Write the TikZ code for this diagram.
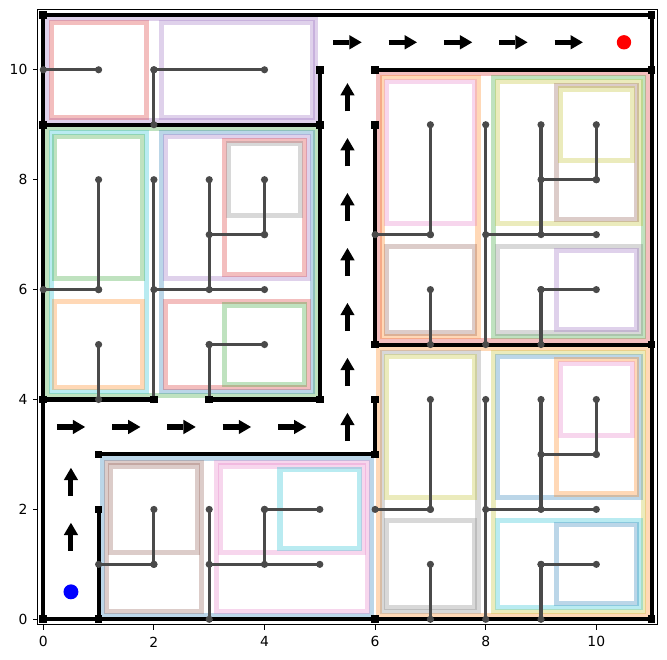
\documentclass[tikz,border=0pt]{standalone}
\usepackage{fontspec}
\setmainfont{DejaVu Sans}
\usetikzlibrary{arrows.meta}

\definecolor{tabblue}{HTML}{1F77B4}
\definecolor{taborange}{HTML}{FF7F0E}
\definecolor{tabgreen}{HTML}{2CA02C}
\definecolor{tabred}{HTML}{D62728}
\definecolor{tabpurple}{HTML}{9467BD}
\definecolor{tabbrown}{HTML}{8C564B}
\definecolor{tabpink}{HTML}{E377C2}
\definecolor{tabgray}{HTML}{7F7F7F}
\definecolor{tabolive}{HTML}{BCBD22}
\definecolor{tabcyan}{HTML}{17BECF}
\definecolor{branchgray}{HTML}{4A4A4A}

\tikzset{
    wall/.style={line width=2.1pt, draw=black},
    branch/.style={line width=1.6pt, draw=branchgray},
    zone/.style={line width=2.6pt, draw opacity=0.3},
    move/.style={line width=2.6pt, -{Triangle[length=6.3pt, width=7.4pt, line width=0pt]}},
    start/.style={circle, fill=blue, inner sep=0pt, minimum size=0.27cm},
    goal/.style={circle, fill=red, inner sep=0pt, minimum size=0.26cm},
    tick/.style={inner sep=0pt, font=\fontsize{7.15}{8}\selectfont}
}

\begin{document}
\begin{tikzpicture}[x=1cm, y=0.9937cm]
  \useasboundingbox (-0.783,-0.7225) rectangle (11.278,11.27);

  % grid points
  \foreach \i in {0,...,11}
    \foreach \j in {0,...,11}
      \coordinate (g\i-\j) at (\i,\j);

  % partition rectangles: colour/depth/x1/y1/x2/y2
  \foreach \c/\d/\xa/\ya/\xb/\yb in {
      tabpurple/0/0/9/5/11, tabred/1/0/9/2/11, tabpurple/1/2/9/5/11,
      tabgreen/0/0/4/5/9, tabcyan/1/0/4/2/9, tabgreen/2/0/6/2/9, taborange/2/0/4/2/6,
      tabblue/1/2/4/5/9, tabpurple/2/2/6/5/9, tabred/3/3/6/5/9, tabgray/4/3/7/5/9,
      tabred/2/2/4/5/6, tabgreen/3/3/4/5/6,
      tabblue/0/1/0/6/3, tabbrown/1/1/0/3/3, tabbrown/2/1/1/3/3,
      tabpink/1/3/0/6/3, tabpink/2/3/1/6/3, tabcyan/3/4/1/6/3,
      tabred/0/6/5/11/10, taborange/1/6/5/8/10, tabpink/2/6/7/8/10, tabbrown/2/6/5/8/7,
      tabgreen/1/8/5/11/10, tabolive/2/8/7/11/10, tabbrown/3/9/7/11/10, tabolive/4/9/8/11/10,
      tabgray/2/8/5/11/7, tabpurple/3/9/5/11/7,
      taborange/0/6/0/11/5, tabgray/1/6/0/8/5, tabolive/2/6/2/8/5, tabgray/2/6/0/8/2,
      tabolive/1/8/0/11/5, tabblue/2/8/2/11/5, taborange/3/9/2/11/5, tabpink/4/9/3/11/5,
      tabcyan/2/8/0/11/2, tabblue/3/9/0/11/2}
    \draw[zone, draw=\c] ({\xa+0.07*(\d+1)},{\ya+0.07*(\d+1)})
      rectangle ({\xb-0.07*(\d+1)},{\yb-0.07*(\d+1)});

  % walls
  \foreach \a/\b in {0-11/11-11, 11-11/11-0, 0-11/0-0, 0-0/11-0,
      0-9/5-9, 5-10/5-4, 0-4/2-4, 3-4/5-4, 1-3/6-3, 1-2/1-0, 6-4/6-3,
      6-10/11-10, 6-9/6-5, 6-5/11-5}
    \draw[wall] (g\a) -- (g\b);

  % tree
  \foreach \a/\b in {0-10/1-10, 2-10/4-10, 2-10/2-9,
      1-8/1-6, 0-6/1-6, 2-8/2-4, 2-6/4-6, 3-8/3-6, 3-7/4-7, 4-8/4-7, 1-5/1-4, 3-5/4-5, 3-5/3-4,
      2-2/2-1, 1-1/2-1, 3-2/3-0, 3-1/5-1, 4-2/4-1, 4-2/5-2,
      7-9/7-7, 6-7/7-7, 8-9/8-5, 8-7/10-7, 9-9/9-7, 9-8/10-8, 10-9/10-8, 7-6/7-5, 9-6/10-6, 9-6/9-5,
      7-4/7-2, 6-2/7-2, 8-4/8-0, 8-2/10-2, 9-4/9-2, 9-3/10-3, 10-4/10-3, 7-1/7-0, 9-1/10-1, 9-1/9-0}
  {
    \draw[branch] (g\a) -- (g\b);
    \fill[branchgray] (g\a) circle (0.065) (g\b) circle (0.065);
  }

  % wall ends
  \foreach \p in {0-11, 11-11, 0-9, 5-9, 5-10, 0-4, 2-4, 3-4, 5-4, 0-0, 1-0, 6-0,
      1-3, 6-3, 1-2, 6-4, 6-5, 11-5, 11-0, 6-10, 11-10, 6-9}
    \fill (g\p) +(-0.07,-0.07) rectangle +(0.07,0.07);

  % path
  \foreach \y in {1.5,2.5}
    \draw[move] (0.5,{\y-0.256}) -- (0.5,{\y+0.256});
  \foreach \x in {0.5,1.5,...,4.5}
    \draw[move] ({\x-0.256},3.5) -- ({\x+0.256},3.5);
  \foreach \y in {3.5,4.5,...,9.5}
    \draw[move] (5.5,{\y-0.256}) -- (5.5,{\y+0.256});
  \foreach \x in {5.5,6.5,...,9.5}
    \draw[move] ({\x-0.256},10.5) -- ({\x+0.256},10.5);
  \node[start] (s) at (0.5,0.5) {};
  \node[goal] (t) at (10.5,10.5) {};

  % axes
  \draw[line width=0.57pt] (-0.1,-0.1) rectangle (11.1,11.1);
  \foreach \t in {0,2,...,10} {
    \draw[line width=0.57pt] (\t,-0.1) -- (\t,-0.19);
    \draw[line width=0.57pt] (-0.1,\t) -- (-0.19,\t);
    \node[tick] (xt\t) at (\t,-0.41) {\t};
    \node[tick, anchor=east] (yt\t) at (-0.28,\t) {\t};
  }
\end{tikzpicture}
\end{document}
